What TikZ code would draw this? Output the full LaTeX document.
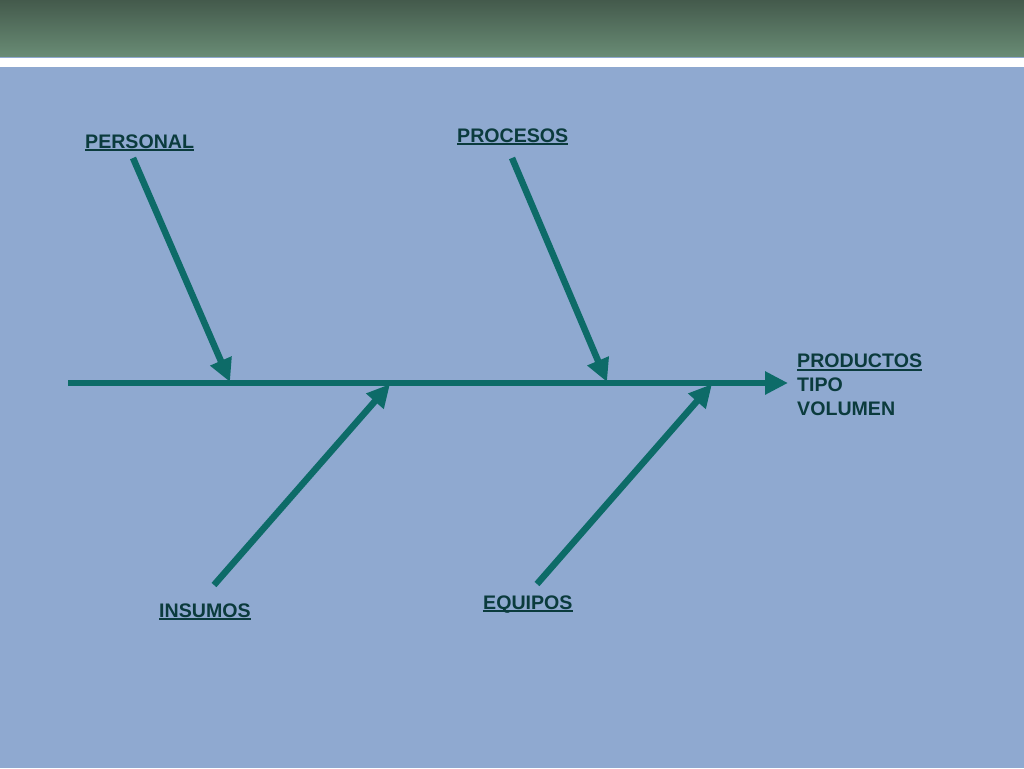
\documentclass[tikz,border=0pt]{standalone}
\usepackage{fontspec}
\setmainfont{Liberation Sans}
\usetikzlibrary{arrows.meta}

\definecolor{slidebg}{HTML}{8FA9D0}
\definecolor{bandtop}{HTML}{445A4C}
\definecolor{bandbot}{HTML}{698C75}
\definecolor{bone}{HTML}{0D6B68}
\definecolor{labeltext}{HTML}{0B3B3D}

\newsavebox{\ulbox}
\newcommand{\ultext}[1]{\sbox{\ulbox}{#1}\rlap{\rule[-3pt]{\wd\ulbox}{2pt}}\usebox{\ulbox}}

\tikzstyle{bonearrow} = [draw=bone, line width=6.5pt,
    -{Triangle[length=23pt, width=22pt]}]
\tikzstyle{causelabel} = [text=labeltext, font=\fontsize{19.6}{24}\selectfont\bfseries,
    inner sep=0pt, anchor=base west]

\begin{document}
\begin{tikzpicture}[x=1pt, y=-1pt]
\useasboundingbox (0,0) rectangle (1024,768);
\fill[slidebg] (0,0) rectangle (1024,768);
\shade[top color=bandtop, bottom color=bandbot] (0,0) rectangle (1024,57);
\fill[white] (0,58) rectangle (1024,67);

% spine
\coordinate (tail) at (68,383);
\coordinate (head) at (788,383);
\draw[bonearrow] (tail) -- (head);

% labels
\node[causelabel] (personal) at (85,148) {\ultext{PERSONAL}};
\node[causelabel] (procesos) at (457,142) {\ultext{PROCESOS}};
\node[causelabel] (insumos) at (159,617) {\ultext{INSUMOS}};
\node[causelabel] (equipos) at (483,609) {\ultext{EQUIPOS}};
\node[causelabel, align=left, anchor=north west] (efecto) at (797,354)
    {\ultext{PRODUCTOS}\\TIPO\\VOLUMEN};

% bones
\coordinate (personal start) at (133,158);
\coordinate (personal end) at (230,382);
\coordinate (procesos start) at (512,158);
\coordinate (procesos end) at (607,382);
\coordinate (insumos start) at (214,585);
\coordinate (insumos end) at (390,384);
\coordinate (equipos start) at (537,584);
\coordinate (equipos end) at (712,384);
\draw[bonearrow] (personal start) -- (personal end);
\draw[bonearrow] (procesos start) -- (procesos end);
\draw[bonearrow] (insumos start) -- (insumos end);
\draw[bonearrow] (equipos start) -- (equipos end);
\end{tikzpicture}
\end{document}
